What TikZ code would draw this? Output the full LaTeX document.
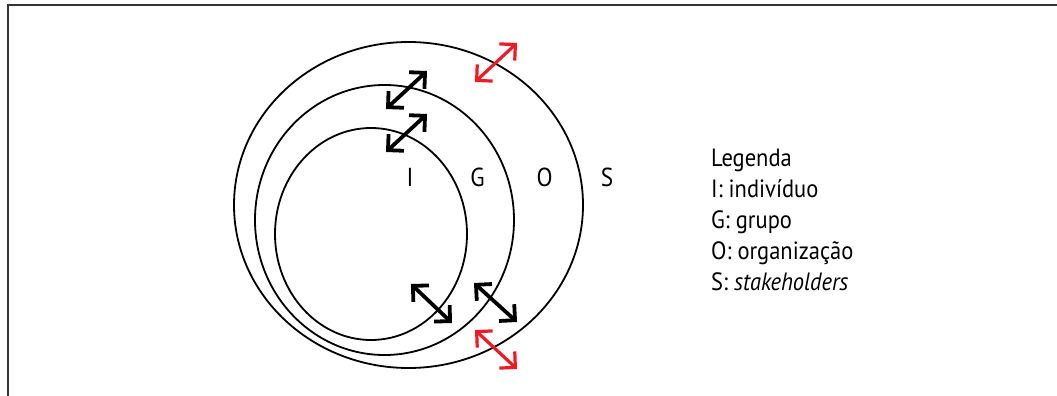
\documentclass[tikz,border=0pt]{standalone}
\usepackage{fontspec}
\setmainfont{PT Sans}[FakeStretch=0.9]
\usetikzlibrary{shapes.geometric,arrows.meta}
\definecolor{arrowred}{HTML}{ED1C24}
\definecolor{framegray}{HTML}{333333}
\begin{document}
\begin{tikzpicture}[x=1pt,y=-1pt,
  ring/.style={draw=black, ellipse, line width=1.8pt, inner sep=0pt},
  exchange/.style={line width=3.8pt, {Straight Barb[angle=90:16pt]}-{Straight Barb[angle=90:16pt]}},
  exchangered/.style={exchange, line width=3.2pt, draw=arrowred},
  letter/.style={font=\fontsize{26}{30}\selectfont, inner sep=0pt},
  legend/.style={font=\fontsize{25}{31}\selectfont, align=left, inner sep=0pt, anchor=north west}]
  \useasboundingbox (0,0) rectangle (1057,396);
  % frame
  \coordinate (fbl) at (7.5,396);
  \coordinate (ftl) at (7.5,5.5);
  \coordinate (ftr) at (1057,5.5);
  \draw[framegray, line width=2pt] (fbl) -- (ftl) -- (ftr);
  % nested circles
  \node[ring, minimum width=349pt, minimum height=326pt] (S) at (408.5,205) {};
  \node[ring, minimum width=259pt, minimum height=270pt] (G) at (384.5,220) {};
  \node[ring, minimum width=192pt, minimum height=212pt] (I) at (371,234) {};
  % labels
  \node[letter] (lI) at (410,177) {I};
  \node[letter] (lG) at (477.5,177) {G};
  \node[letter] (lO) at (544.5,177) {O};
  \node[letter] (lS) at (607,177) {S};
  % exchange arrows
  \coordinate (r1a) at (475,82);  \coordinate (r1b) at (517,43);
  \coordinate (b1a) at (386,109); \coordinate (b1b) at (427,71);
  \coordinate (b2a) at (386,152); \coordinate (b2b) at (427,114);
  \coordinate (b3a) at (411,284); \coordinate (b3b) at (452,323);
  \coordinate (b4a) at (474,283); \coordinate (b4b) at (517,322);
  \coordinate (r2a) at (475,330); \coordinate (r2b) at (517,369);
  \draw[exchangered] (r1a) -- (r1b);
  \draw[exchange] (b1a) -- (b1b);
  \draw[exchange] (b2a) -- (b2b);
  \draw[exchange] (b3a) -- (b3b);
  \draw[exchange] (b4a) -- (b4b);
  \draw[exchangered] (r2a) -- (r2b);
  % legend
  \node[legend] (leg) at (711,149) {Legenda\\I: indivíduo\\G: grupo\\O: organização\\S: \textit{stakeholders}};
\end{tikzpicture}
\end{document}
